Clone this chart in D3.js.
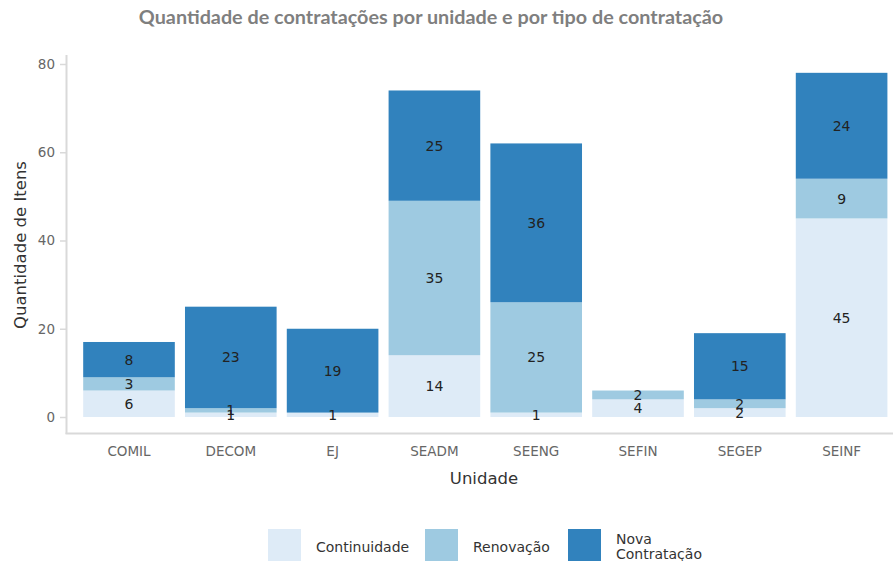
<!DOCTYPE html>
<html><head><meta charset="utf-8">
<script src="https://cdn.jsdelivr.net/npm/d3@7"></script>
<style>body{margin:0;background:#fff;}svg{display:block;}</style>
</head><body>
<svg id="chart" width="893" height="561"></svg>
<script>
const categories = ["COMIL","DECOM","EJ","SEADM","SEENG","SEFIN","SEGEP","SEINF"];
const seriesNames = ["Continuidade","Renovação","Nova Contratação"];
const continuidade = [6,1,1,14,1,4,2,45];
const renovacao = [3,1,0,35,25,2,2,9];
const novaContratacao = [8,23,19,25,36,0,15,24];
const yTicks = [0,20,40,60,80];
const colors = ["#deebf7","#9ecae1","#3182bd"];

const svg = d3.select("#chart");
const rows = categories.map((c,i)=>({cat:c, "Continuidade":continuidade[i], "Renovação":renovacao[i], "Nova Contratação":novaContratacao[i]}));
const stack = d3.stack().keys(seriesNames)(rows);

const x = d3.scaleBand().domain(categories).range([78.1, 892.5]).paddingInner(0.1).paddingOuter(0.05);
const y = d3.scaleLinear().domain([0,80]).range([417, 64]);
const color = d3.scaleOrdinal().domain(seriesNames).range(colors);

// Title
svg.append("text").attr("x", 431).attr("y", 24).attr("text-anchor","middle")
  .attr("font-family","Lato, 'Open Sans', sans-serif").attr("font-weight","700").attr("font-size",19.8)
  .attr("fill","#7f7f7f").text("Quantidade de contratações por unidade e por tipo de contratação");

// bars
const g = svg.append("g");
stack.forEach(layer=>{
  g.selectAll(null).data(layer.filter(d=>d[1]-d[0]>0)).enter().append("rect")
    .attr("x", d=>x(d.data.cat)).attr("width", x.bandwidth())
    .attr("y", d=>y(d[1])).attr("height", d=>y(d[0])-y(d[1]))
    .attr("fill", color(layer.key));
});
// labels
stack.forEach(layer=>{
  g.selectAll(null).data(layer.filter(d=>d[1]-d[0]>0)).enter().append("text")
    .attr("x", d=>x(d.data.cat)+x.bandwidth()/2)
    .attr("y", d=>y((d[0]+d[1])/2))
    .attr("dy","0.36em").attr("text-anchor","middle")
    .attr("font-family","'DejaVu Sans', sans-serif").attr("font-size",14)
    .attr("fill","#222").text(d=>d[1]-d[0]);
});

// axes
const axisCol = "#d9d9d9";
svg.append("line").attr("x1",66.5).attr("x2",66.5).attr("y1",55).attr("y2",434).attr("stroke",axisCol).attr("stroke-width",2);
svg.append("line").attr("x1",65.5).attr("x2",893).attr("y1",433.5).attr("y2",433.5).attr("stroke",axisCol).attr("stroke-width",2);

const yAxis = svg.append("g").attr("transform","translate(66,0)")
  .call(d3.axisLeft(y).tickValues(yTicks).tickSize(6).tickPadding(5));
yAxis.select(".domain").remove();
yAxis.selectAll("line").attr("stroke",axisCol).attr("stroke-width",1.5);
yAxis.selectAll("text").attr("font-family","'DejaVu Sans', sans-serif").attr("font-size",13.5).attr("fill","#666");

const xAxis = svg.append("g").attr("transform","translate(0,434)")
  .call(d3.axisBottom(x).tickSize(0).tickPadding(12));
xAxis.select(".domain").remove();
xAxis.selectAll("text").attr("font-family","'DejaVu Sans', sans-serif").attr("font-size",13.5).attr("fill","#666");

// axis titles
svg.append("text").attr("x",484).attr("y",484).attr("text-anchor","middle")
  .attr("font-family","'DejaVu Sans', sans-serif").attr("font-size",16.5).attr("fill","#333").text("Unidade");
svg.append("text").attr("transform","translate(26,245) rotate(-90)").attr("text-anchor","middle")
  .attr("font-family","'DejaVu Sans', sans-serif").attr("font-size",16.5).attr("fill","#333").text("Quantidade de Itens");

// legend
const legendItems = [
  {key:"Continuidade", kx:268, lines:["Continuidade"]},
  {key:"Renovação", kx:425, lines:["Renovação"]},
  {key:"Nova Contratação", kx:568, lines:["Nova","Contratação"]}
];
const lg = svg.append("g");
legendItems.forEach(it=>{
  lg.append("rect").attr("x",it.kx).attr("y",529).attr("width",33).attr("height",34).attr("fill",color(it.key));
  const t = lg.append("text").attr("x",it.kx+48).attr("font-family","'DejaVu Sans', sans-serif")
    .attr("font-size",14).attr("fill","#333");
  if(it.lines.length===1){
    t.attr("y",552).text(it.lines[0]);
  } else {
    t.append("tspan").attr("x",it.kx+48).attr("y",544).text(it.lines[0]);
    t.append("tspan").attr("x",it.kx+48).attr("y",559).text(it.lines[1]);
  }
});
</script>
</body></html>
